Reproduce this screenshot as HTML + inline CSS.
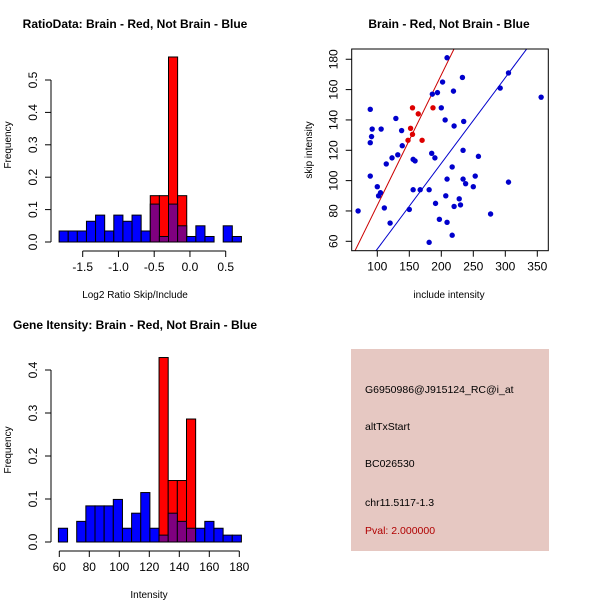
<!DOCTYPE html>
<html><head><meta charset="utf-8"><style>
body{margin:0;background:#fff;}
svg{display:block;font-family:"Liberation Sans",Helvetica,sans-serif;}
</style></head><body>
<svg id="fig" width="600" height="600" viewBox="0 0 600 600">
<rect width="600" height="600" fill="#fff"/>
</svg>
<script>
// ---- Ratio histogram data ----
const ratioBinStart = -1.83;
const ratioBinWidth = 0.1275;
const ratioBlue = [0.034,0.034,0.034,0.064,0.083,0.034,0.083,0.064,0.083,0.034,0.117,0.017,0.117,0.05,0.017,0.05,0.017,0,0.05,0.017];
const ratioRed  = [0,0,0,0,0,0,0,0,0,0,0.143,0.143,0.571,0.143,0,0,0,0,0,0];
const ratioXTicks = [-1.5,-1.0,-0.5,0.0,0.5];
const ratioXLabels = ["-1.5","-1.0","-0.5","0.0","0.5"];
const ratioYTicks = [0,0.1,0.2,0.3,0.4,0.5];
const ratioYLabels = ["0.0","0.1","0.2","0.3","0.4","0.5"];
// ---- Intensity histogram data ----
const intBinStart = 59.4;
const intBinWidth = 6.1;
const intBlue = [0.032,0,0.048,0.084,0.084,0.084,0.099,0.032,0.067,0.115,0.032,0.016,0.067,0.048,0.032,0.032,0.048,0.032,0.016,0.016];
const intRed  = [0,0,0,0,0,0,0,0,0,0,0,0.429,0.143,0.143,0.286,0,0,0,0,0];
const intXTicks = [60,80,100,120,140,160,180];
const intYTicks = [0,0.1,0.2,0.3,0.4];
const intYLabels = ["0.0","0.1","0.2","0.3","0.4"];
// ---- Scatter data ----
const blueX = [209,202,233,194,186,219,200,206,220,235,305,292,356,89,92,106,91,89,129,138,139,132,123,114,156,159,185,190,234,258,89,100,102,105,156,167,181,209,217,234,238,253,250,305,70,111,150,120,191,207,228,220,230,197,209,217,181,277];
const blueY = [181,165,168,158,157,159,148,140,136,139,171,161,155,147,134,134,129,125,141,133,123,117,115,111,114,113,118,115,120,116,103,96,90,92,94,94,94,101,109,101,98,103,96,99,80,82,81,72,85,90,88,83,84,74.5,72.5,64,59.3,78];
const redX = [155,164,187,152,155,148,170];
const redY = [148,144,148,134.5,130.5,126.6,126.6];
const redLine = [-2.3,0.86];   // intercept, slope
const blueLine = [-1.6,0.565];
const scXTicks = [100,150,200,250,300,350];
const scYTicks = [60,80,100,120,140,160,180];

const svg = document.getElementById('fig');
const NS = 'http://www.w3.org/2000/svg';
function el(tag, attrs, parent){
  const e = document.createElementNS(NS, tag);
  for (const k in attrs) e.setAttribute(k, attrs[k]);
  (parent||svg).appendChild(e);
  return e;
}
function txt(x,y,s,size,opts){
  const t = el('text', Object.assign({x:x,y:y,'font-size':size,'text-anchor':'middle',fill:'#000'}, opts||{}));
  t.textContent = s;
  return t;
}

function histogram(cfg){
  const g = el('g', {});
  
  
  const sx = v => cfg.x0px + (v - cfg.x0) * cfg.xs;
  const sy = v => cfg.y0px - v * cfg.ys;
  for (let i=0;i<cfg.red.length;i++){
    if (cfg.red[i] > 0){
      const x1 = sx(cfg.start + i*cfg.w), x2 = sx(cfg.start + (i+1)*cfg.w);
      const r = el('rect', {x:x1,y:sy(cfg.red[i]),width:x2-x1,height:sy(0)-sy(cfg.red[i]),fill:'#ff0000',stroke:'#000','stroke-width':1}, g);
      
      
    }
  }
  for (let i=0;i<cfg.blue.length;i++){
    if (cfg.blue[i] > 0){
      const x1 = sx(cfg.start + i*cfg.w), x2 = sx(cfg.start + (i+1)*cfg.w);
      const col = cfg.red[i] > 0 ? '#7f007f' : '#0000ff';
      const b = el('rect', {x:x1,y:sy(cfg.blue[i]),width:x2-x1,height:sy(0)-sy(cfg.blue[i]),fill:col,stroke:'#000','stroke-width':1}, g);
      
      
    }
  }
  const xa = cfg.xticks;
  el('line', {x1:sx(xa[0]),x2:sx(xa[xa.length-1]),y1:cfg.xaxisY,y2:cfg.xaxisY,stroke:'#000'}, g);
  xa.forEach((v,i)=>{
    el('line',{x1:sx(v),x2:sx(v),y1:cfg.xaxisY,y2:cfg.xaxisY+6,stroke:'#000'},g);
    txt(sx(v), cfg.xaxisY+20, cfg.xlabels[i], 12, {});
  });
  const ya = cfg.yticks;
  el('line', {x1:cfg.yaxisX,x2:cfg.yaxisX,y1:sy(ya[0]),y2:sy(ya[ya.length-1]),stroke:'#000'}, g);
  ya.forEach((v,i)=>{
    el('line',{x1:cfg.yaxisX-6,x2:cfg.yaxisX,y1:sy(v),y2:sy(v),stroke:'#000'},g);
    const t = txt(cfg.yaxisX-14, sy(v), cfg.ylabels[i], 12, {transform:`rotate(-90 ${cfg.yaxisX-14} ${sy(v)})`});
    
  });
}

const t1 = txt(135,28,'RatioData: Brain - Red, Not Brain - Blue',12,{'font-weight':'bold'});
 
const t2 = txt(449,28,'Brain - Red, Not Brain - Blue',12,{'font-weight':'bold'});
 
const t3 = txt(135,329,'Gene Itensity: Brain - Red, Not Brain - Blue',12,{'font-weight':'bold'});
 

histogram({name:'ratio-histogram', start:ratioBinStart, w:ratioBinWidth, blue:ratioBlue, red:ratioRed,
  x0:-1.5, x0px:82.7, xs:71.5, y0px:242, ys:324, xticks:ratioXTicks, xlabels:ratioXLabels,
  yticks:ratioYTicks, ylabels:ratioYLabels, xaxisY:251, yaxisX:51});
const a1 = txt(135,298,'Log2 Ratio Skip/Include',10); 
const a2 = txt(11,145,'Frequency',10,{transform:'rotate(-90 11 145)'}); 

histogram({name:'intensity-histogram', start:intBinStart, w:intBinWidth, blue:intBlue, red:intRed,
  x0:60, x0px:59.3, xs:1.5, y0px:542, ys:430, xticks:intXTicks, xlabels:intXTicks.map(String),
  yticks:intYTicks, ylabels:intYLabels, xaxisY:551, yaxisX:51});
const a3 = txt(149,598,'Intensity',10); 
const a4 = txt(11,450,'Frequency',10,{transform:'rotate(-90 11 450)'}); 

(function(){
  const g = el('g',{});
  
  
  const L=351.7,R=548.3,T=49,B=250.7;
  const sx = v => 377.3 + (v-100)*0.64;
  const sy = v => 241.3 - (v-60)*1.517;
  const cp = el('clipPath',{id:'scclip'},g);
  el('rect',{x:L,y:T,width:R-L,height:B-T},cp);
  [[redLine,'#cc0000'],[blueLine,'#0000cc']].forEach(([ln,c])=>{
    const l = el('line',{x1:sx(0),y1:sy(ln[0]),x2:sx(400),y2:sy(ln[0]+ln[1]*400),stroke:c,'stroke-width':1,'clip-path':'url(#scclip)'},g);
    
    
  });
  for (let i=0;i<blueX.length;i++){
    const c = el('circle',{cx:sx(blueX[i]),cy:sy(blueY[i]),r:2.7,fill:'#0000cc'},g);
    
    
  }
  for (let i=0;i<redX.length;i++){
    const c = el('circle',{cx:sx(redX[i]),cy:sy(redY[i]),r:2.7,fill:'#dd0000'},g);
    
    
  }
  el('rect',{x:L,y:T,width:R-L,height:B-T,fill:'none',stroke:'#000'},g);
  scXTicks.forEach(v=>{
    el('line',{x1:sx(v),x2:sx(v),y1:B,y2:B+6,stroke:'#000'},g);
    txt(sx(v),B+20,String(v),12);
  });
  scYTicks.forEach(v=>{
    el('line',{x1:L-6,x2:L,y1:sy(v),y2:sy(v),stroke:'#000'},g);
    txt(L-14,sy(v),String(v),12,{transform:`rotate(-90 ${L-14} ${sy(v)})`});
  });
  txt(449,298,'include intensity',10);
  txt(312,150,'skip intensity',10,{transform:'rotate(-90 312 150)'});
})();

(function(){
  const g = el('g',{});
  
  
  el('rect',{x:351,y:349,width:198,height:202,fill:'#e6c8c2'},g);
  const lines = [['G6950986@J915124_RC@i_at',393,'#000'],['altTxStart',430,'#000'],['BC026530',467,'#000'],['chr11.5117-1.3',506,'#000'],['Pval: 2.000000',534,'#b00000']];
  lines.forEach(([s,y,c])=>{
    const t = txt(365,y,s,10.5,{'text-anchor':'start',fill:c});
    
    
  });
})();
</script>
</body></html>
